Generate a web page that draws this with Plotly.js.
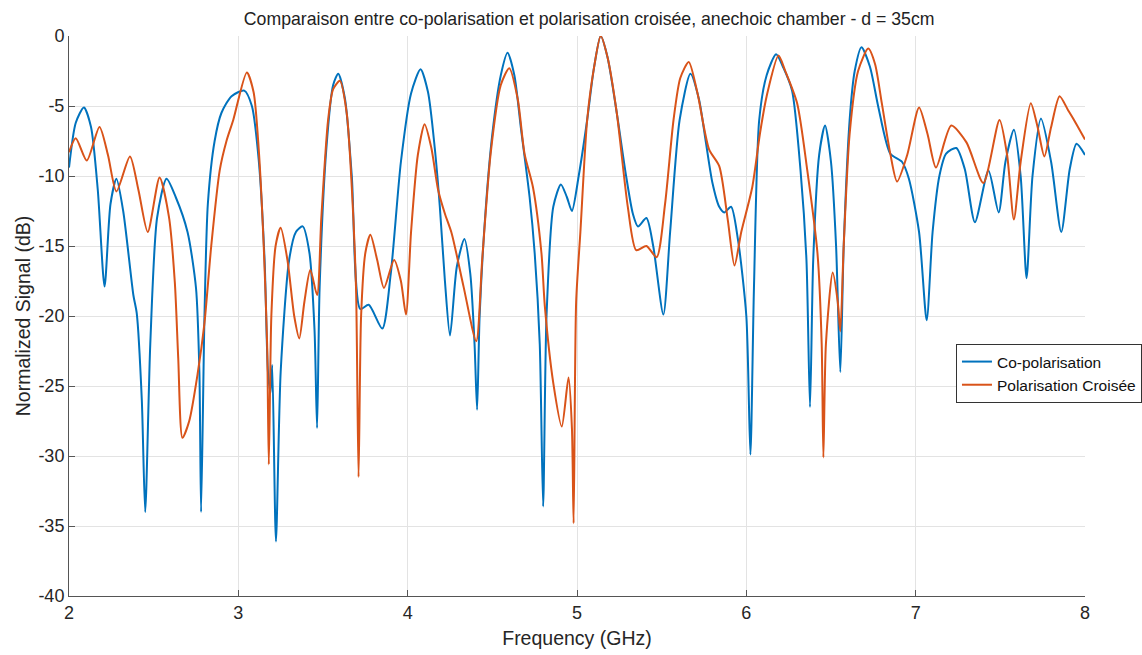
<!DOCTYPE html>
<html>
<head>
<meta charset="utf-8">
<script src="https://cdn.plot.ly/plotly-3.0.1.min.js"></script>
<style>html,body{margin:0;padding:0;background:#fff;}#chart{width:1142px;height:655px;}</style>
</head>
<body>
<div id="chart"></div>
<script>
const freqCo = [2.00,2.04,2.088,2.13,2.17,2.21,2.245,2.28,2.32,2.38,2.40,2.43,2.45,2.48,2.52,2.576,2.63,2.70,2.75,2.77,2.78,2.80,2.82,2.86,2.90,2.96,3.035,3.08,3.12,3.155,3.175,3.19,3.20,3.222,3.25,3.30,3.34,3.38,3.42,3.45,3.465,3.48,3.52,3.56,3.59,3.63,3.67,3.72,3.77,3.85,3.90,3.96,4.02,4.076,4.12,4.16,4.19,4.22,4.25,4.29,4.335,4.37,4.395,4.41,4.425,4.46,4.50,4.55,4.59,4.63,4.67,4.72,4.75,4.78,4.80,4.82,4.86,4.905,4.94,4.97,5.01,5.06,5.10,5.14,5.18,5.235,5.29,5.33,5.36,5.41,5.45,5.51,5.55,5.606,5.67,5.72,5.76,5.80,5.84,5.87,5.91,5.95,6.00,6.024,6.045,6.076,6.12,6.176,6.22,6.27,6.32,6.355,6.376,6.395,6.43,6.465,6.50,6.53,6.555,6.575,6.61,6.64,6.68,6.73,6.78,6.85,6.92,6.96,7.02,7.065,7.10,7.14,7.18,7.24,7.29,7.35,7.43,7.49,7.53,7.58,7.62,7.655,7.69,7.74,7.80,7.86,7.91,7.95,8.00];
const sigCo = [-9.4,-6.2,-5.1,-6.5,-11,-17.9,-12,-10.2,-12.5,-18.5,-19.8,-26,-34.0,-22,-13,-10.2,-11.5,-14,-18,-24,-34.0,-20,-12,-7.5,-5.5,-4.3,-3.9,-5,-8.8,-16,-24,-25.5,-23.5,-36.1,-24,-16,-14,-13.6,-15.5,-21,-28.0,-18,-8,-3.5,-2.7,-4.5,-10,-19.5,-19.2,-20.9,-17,-9,-4.1,-2.37,-4,-8,-12.2,-17.5,-21.4,-16.5,-14.5,-17,-22,-26.7,-20,-12.5,-7,-2.8,-1.2,-2.8,-6.7,-11.5,-15.5,-22,-33.6,-20,-12.2,-10.6,-11.5,-12.5,-10,-6.0,-2.3,0,-1.5,-5.5,-10,-12.7,-13.6,-13.0,-15,-19.9,-14,-6.0,-2.7,-4.5,-7.5,-10.5,-12.2,-12.6,-12.2,-14.5,-20,-29.9,-18,-6.0,-2.8,-1.3,-2.3,-3.9,-9.6,-16,-26.5,-16,-8.5,-6.4,-9,-15,-24.0,-15,-6,-2.5,-0.8,-2.2,-5.1,-8.4,-9.0,-10.2,-14,-20.3,-14,-10,-8.4,-8.0,-9.5,-13.3,-9.6,-12.6,-9,-6.7,-10,-17.3,-10,-5.9,-9,-14.0,-9.5,-7.7,-8.5];

const freqCx = [2.00,2.04,2.105,2.18,2.23,2.28,2.36,2.41,2.465,2.535,2.59,2.625,2.645,2.67,2.71,2.76,2.80,2.84,2.89,2.93,2.97,3.05,3.09,3.12,3.15,3.17,3.18,3.195,3.22,3.25,3.29,3.33,3.36,3.39,3.425,3.465,3.49,3.53,3.56,3.60,3.64,3.67,3.695,3.71,3.725,3.75,3.78,3.82,3.86,3.92,3.96,3.99,4.02,4.06,4.10,4.14,4.18,4.22,4.26,4.33,4.405,4.44,4.49,4.55,4.60,4.65,4.69,4.74,4.79,4.81,4.86,4.91,4.95,4.97,4.98,4.995,5.02,5.06,5.10,5.14,5.18,5.235,5.30,5.35,5.41,5.47,5.52,5.57,5.61,5.66,5.71,5.78,5.84,5.89,5.93,5.97,6.035,6.08,6.12,6.19,6.23,6.30,6.36,6.42,6.445,6.455,6.47,6.51,6.54,6.555,6.575,6.61,6.66,6.72,6.76,6.80,6.85,6.89,6.95,7.02,7.07,7.12,7.21,7.30,7.40,7.495,7.54,7.58,7.62,7.68,7.72,7.76,7.80,7.85,7.90,7.93,8.00];
const sigCx = [-8.3,-7.3,-8.9,-6.5,-8.5,-11.1,-8.6,-11,-14.0,-10.1,-12.9,-17.6,-23,-28.7,-27.5,-24.1,-20.5,-15,-9.6,-7.5,-6,-2.6,-4,-8,-15,-22,-30.6,-20,-15,-13.7,-16,-20,-21.6,-19,-16.7,-18.5,-13,-6,-3.8,-3.2,-5.5,-10.8,-18,-31.5,-20,-15.5,-14.2,-16,-18.0,-16.0,-17.5,-19.9,-14,-8.5,-6.3,-8,-11.0,-12.7,-14.1,-17.9,-21.8,-16,-8.4,-3.5,-2.3,-4.5,-8.4,-10.8,-15.5,-19.3,-24.8,-27.9,-24.4,-28,-34.8,-19,-14,-6.0,-2.3,0,-1.5,-5.5,-12.2,-15.3,-15.0,-15.8,-12,-6,-3,-1.85,-4,-8.1,-9.3,-13.1,-16.4,-14,-10.8,-7,-4.3,-1.4,-2.5,-4.8,-9.6,-15.5,-22,-30.1,-22,-16.9,-19,-21.1,-15,-7,-2.5,-0.9,-2,-4.8,-8.4,-10.4,-8.5,-5.1,-7,-9.4,-6.4,-7.6,-10.5,-6.0,-8.5,-13.1,-9,-4.8,-6.5,-8.6,-6.5,-4.3,-5.3,-5.9,-7.4];

const seriesNames = ['Co-polarisation','Polarisation Croisée'];
const xTickVals = [2,3,4,5,6,7,8];
const xTickText = ['2','3','4','5','6','7','8'];
const yTickVals = [-40,-35,-30,-25,-20,-15,-10,-5,0];
const yTickText = ['-40','-35','-30','-25','-20','-15','-10','-5','0'];
const titleText = 'Comparaison entre co-polarisation et polarisation croisée, anechoic chamber - d = 35cm';
const xTitle = 'Frequency (GHz)';
const yTitle = 'Normalized Signal (dB)';

const FONT = 'Liberation Sans, Arial, Helvetica, sans-serif';
const traces = [
  {x: freqCo, y: sigCo, type: 'scatter', mode: 'lines', name: seriesNames[0],
   line: {color: '#0072BD', width: 2, shape: 'spline', smoothing: 0.7}},
  {x: freqCx, y: sigCx, type: 'scatter', mode: 'lines', name: seriesNames[1],
   line: {color: '#D95319', width: 2, shape: 'spline', smoothing: 0.7}}
];
const layout = {
  width: 1142, height: 655,
  margin: {l: 69, r: 57, t: 36, b: 59, autoexpand: false},
  paper_bgcolor: '#ffffff', plot_bgcolor: '#ffffff',
  font: {family: FONT, color: '#262626', size: 18},
  title: {text: titleText, font: {family: FONT, size: 17.7, color: '#222'}, x: 0.512, xref: 'paper', xanchor: 'center', y: 0.972, yanchor: 'middle'},
  showlegend: true,
  legend: {x: 0.873, y: 0.45, xanchor: 'left', yanchor: 'top', bgcolor: '#ffffff', bordercolor: '#333', borderwidth: 1,
           font: {family: FONT, size: 15.5, color: '#111'}, tracegroupgap: 0, itemwidth: 30},
  xaxis: {range: [2, 8], tickmode: 'array', tickvals: xTickVals, ticktext: xTickText,
          showgrid: true, gridcolor: '#e3e3e3', gridwidth: 1,
          showline: true, linecolor: '#555', linewidth: 1, ticks: 'inside', ticklen: 6, tickcolor: '#555',
          zeroline: false, automargin: false, tickfont: {size: 18, color: '#262626'},
          title: {text: xTitle, font: {size: 19.5, color: '#262626'}, standoff: 9}},
  yaxis: {range: [-40, 0], tickmode: 'array', tickvals: yTickVals, ticktext: yTickText,
          showgrid: true, gridcolor: '#e3e3e3', gridwidth: 1,
          showline: true, linecolor: '#555', linewidth: 1, ticks: 'inside', ticklen: 6, tickcolor: '#555',
          zeroline: false, automargin: false, tickfont: {size: 18, color: '#262626'},
          title: {text: yTitle, font: {size: 19.5, color: '#262626'}, standoff: 2}}
};
Plotly.newPlot('chart', traces, layout, {displayModeBar: false, responsive: false});
</script>
</body>
</html>
